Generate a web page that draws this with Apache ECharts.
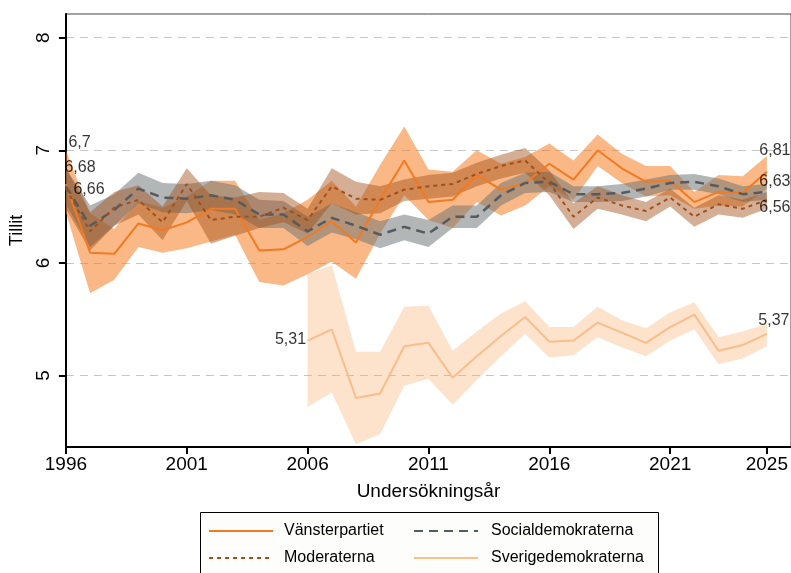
<!DOCTYPE html>
<html>
<head>
<meta charset="utf-8">
<title>Tillit</title>
<script src="https://cdn.jsdelivr.net/npm/echarts@6/dist/echarts.min.js"></script>
<style>
  html, body { margin: 0; padding: 0; background: #fff; }
  #chart { width: 791px; height: 573px; }
</style>
</head>
<body>
<div id="chart"></div>
<script>
  var years = [1996, 1997, 1998, 1999, 2000, 2001, 2002, 2003, 2004, 2005,
    2006, 2007, 2008, 2009, 2010, 2011, 2012, 2013, 2014, 2015,
    2016, 2017, 2018, 2019, 2020, 2021, 2022, 2023, 2024, 2025];

  var vanster = [6.70, 6.09, 6.08, 6.35, 6.29, 6.36, 6.48, 6.48, 6.11, 6.12,
    6.23, 6.37, 6.18, 6.56, 6.91, 6.54, 6.56, 6.78, 6.65, 6.71,
    6.88, 6.74, 7.00, 6.84, 6.72, 6.73, 6.54, 6.63, 6.62, 6.81];
  var vansterLo = [6.45, 5.73, 5.85, 6.14, 6.09, 6.13, 6.19, 6.25, 5.83, 5.80,
    5.90, 6.01, 5.86, 6.26, 6.60, 6.38, 6.31, 6.54, 6.42, 6.51,
    6.68, 6.56, 6.86, 6.71, 6.59, 6.60, 6.48, 6.51, 6.50, 6.66];
  var vansterHi = [7.00, 6.44, 6.30, 6.55, 6.49, 6.59, 6.73, 6.73, 6.38, 6.44,
    6.56, 6.73, 6.50, 6.87, 7.21, 6.83, 6.81, 7.00, 6.88, 6.94,
    7.06, 6.91, 7.14, 6.97, 6.86, 6.86, 6.63, 6.78, 6.77, 6.95];

  var socdem = [6.68, 6.33, 6.47, 6.66, 6.58, 6.57, 6.60, 6.56, 6.43, 6.43,
    6.28, 6.40, 6.33, 6.25, 6.32, 6.26, 6.41, 6.41, 6.60, 6.71,
    6.72, 6.61, 6.61, 6.62, 6.66, 6.71, 6.72, 6.68, 6.61, 6.63];
  var socdemLo = [6.52, 6.14, 6.33, 6.53, 6.45, 6.44, 6.47, 6.43, 6.31, 6.31,
    6.15, 6.27, 6.21, 6.13, 6.20, 6.14, 6.31, 6.31, 6.51, 6.62,
    6.63, 6.54, 6.54, 6.55, 6.59, 6.65, 6.65, 6.61, 6.54, 6.56];
  var socdemHi = [6.84, 6.51, 6.61, 6.80, 6.71, 6.70, 6.73, 6.69, 6.56, 6.55,
    6.41, 6.53, 6.45, 6.37, 6.43, 6.38, 6.51, 6.51, 6.71, 6.80,
    6.81, 6.68, 6.68, 6.70, 6.74, 6.78, 6.79, 6.75, 6.68, 6.70];

  var moderat = [6.66, 6.28, 6.49, 6.56, 6.36, 6.70, 6.38, 6.41, 6.41, 6.49,
    6.38, 6.68, 6.57, 6.56, 6.65, 6.68, 6.70, 6.79, 6.86, 6.91,
    6.71, 6.41, 6.58, 6.51, 6.46, 6.58, 6.41, 6.52, 6.48, 6.56];
  var moderatLo = [6.48, 6.11, 6.33, 6.43, 6.20, 6.55, 6.17, 6.24, 6.31, 6.36,
    6.26, 6.53, 6.43, 6.44, 6.55, 6.57, 6.59, 6.68, 6.75, 6.80,
    6.60, 6.30, 6.48, 6.43, 6.37, 6.50, 6.32, 6.43, 6.40, 6.48];
  var moderatHi = [6.84, 6.45, 6.63, 6.69, 6.50, 6.84, 6.60, 6.58, 6.63, 6.62,
    6.48, 6.84, 6.72, 6.68, 6.74, 6.78, 6.80, 6.89, 6.96, 7.02,
    6.82, 6.53, 6.68, 6.60, 6.54, 6.66, 6.49, 6.60, 6.56, 6.63];

  var sverige = [null, null, null, null, null, null, null, null, null, null,
    5.31, 5.41, 4.80, 4.84, 5.26, 5.29, 4.98, 5.17, 5.35, 5.52,
    5.30, 5.31, 5.47, 5.38, 5.29, 5.43, 5.54, 5.22, 5.27, 5.37];
  var sverigeLo = [null, null, null, null, null, null, null, null, null, null,
    4.72, 4.85, 4.39, 4.48, 4.91, 4.97, 4.74, 4.96, 5.17, 5.37,
    5.16, 5.18, 5.34, 5.25, 5.17, 5.31, 5.41, 5.10, 5.15, 5.26];
  var sverigeHi = [null, null, null, null, null, null, null, null, null, null,
    5.90, 5.98, 5.21, 5.21, 5.61, 5.62, 5.22, 5.39, 5.55, 5.66,
    5.43, 5.43, 5.61, 5.49, 5.42, 5.56, 5.65, 5.34, 5.39, 5.46];

  var xTicks = [1996, 2001, 2006, 2011, 2016, 2021, 2025];
  var yTicks = [5, 6, 7, 8];

  var font = '"Liberation Sans", Arial, sans-serif';
  var chart = echarts.init(document.getElementById('chart'));

  // ett konfidensband som en polygon (övre kant fram, nedre kant tillbaka)
  function band(name, lo, hi, color) {
    var rows = [];
    years.forEach(function (y, i) {
      if (lo[i] != null) rows.push([y, lo[i], hi[i]]);
    });
    return {
      name: name + ' KI',
      type: 'custom',
      silent: true,
      clip: true,
      z: 1,
      encode: { x: 0, y: [1, 2] },
      data: rows,
      renderItem: function (params, api) {
        if (params.dataIndex !== 0) return null;
        var upper = [], lower = [];
        rows.forEach(function (r) {
          upper.push(api.coord([r[0], r[2]]));
          lower.unshift(api.coord([r[0], r[1]]));
        });
        return { type: 'polygon', shape: { points: upper.concat(lower) }, style: { fill: color } };
      }
    };
  }

  function line(name, values, color, width, dash) {
    return {
      name: name,
      type: 'line',
      z: 3,
      symbol: 'none',
      silent: true,
      lineStyle: { color: color, width: width, type: dash },
      itemStyle: { color: color },
      data: years.map(function (y, i) { return [y, values[i]]; })
    };
  }

  function tal(v) { return String(v).replace('.', ','); }

  // etiketter vid första och sista året
  var endLabels = [
    { s: vanster, i: 0, pos: [3, -41], align: 'left' },
    { s: socdem, i: 0, pos: [-1, -18], align: 'left' },
    { s: moderat, i: 0, pos: [8, 2], align: 'left' },
    { s: vanster, i: 29, pos: [-7, -21], align: 'left' },
    { s: socdem, i: 29, pos: [-7, -10], align: 'left' },
    { s: moderat, i: 29, pos: [-7, 8], align: 'left' },
    { s: sverige, i: 10, pos: [-1, 0], align: 'right' },
    { s: sverige, i: 29, pos: [-8, -13], align: 'left' }
  ];

  var legendBase = {
    orient: 'vertical', top: 523, padding: 0,
    itemWidth: 64, itemHeight: 18, itemGap: 11,
    selectedMode: false,
    itemStyle: { opacity: 0 }
  };

  chart.setOption({
    backgroundColor: '#fff',
    animation: false,
    grid: {
      left: 65, right: 0, top: 14, bottom: 126,
      show: true, borderColor: '#444', borderWidth: 1
    },
    xAxis: {
      type: 'value',
      min: 1996, max: 2026,
      name: 'Undersökningsår',
      nameLocation: 'middle',
      nameGap: 35,
      nameTextStyle: { fontSize: 19, color: '#000', fontFamily: font },
      axisLine: { lineStyle: { color: '#000', width: 2 } },
      axisTick: { length: 7, lineStyle: { color: '#000', width: 2 }, customValues: xTicks },
      axisLabel: {
        fontSize: 19, color: '#000', fontFamily: font, margin: 8,
        customValues: xTicks,
        formatter: function (v) { return String(v); }
      },
      splitLine: { show: false }
    },
    yAxis: {
      type: 'value',
      min: 4.365, max: 8.21,
      name: 'Tillit',
      nameLocation: 'middle',
      nameGap: 36,
      nameRotate: 90,
      nameTextStyle: { fontSize: 18, color: '#000', fontFamily: font },
      axisLine: { show: true, lineStyle: { color: '#000', width: 2 } },
      axisTick: { show: true, length: 7, lineStyle: { color: '#000', width: 2 }, customValues: yTicks },
      axisLabel: {
        fontSize: 19, color: '#000', fontFamily: font, rotate: 90, margin: 13,
        customValues: yTicks
      },
      splitLine: { show: true, lineStyle: { color: '#c6c6c6', width: 1, type: [8, 6] } }
    },
    legend: [
      Object.assign({}, legendBase, {
        data: ['Vänsterpartiet', 'Moderaterna'],
        left: 208,
        textStyle: { fontSize: 16, color: '#000', fontFamily: font, padding: [0, 0, 0, 6] }
      }),
      Object.assign({}, legendBase, {
        data: ['Socialdemokraterna', 'Sverigedemokraterna'],
        left: 413,
        textStyle: { fontSize: 16, color: '#000', fontFamily: font, padding: [0, 0, 0, 8] }
      })
    ],
    graphic: [{
      type: 'rect', left: 200, top: 512, z: -1,
      shape: { width: 458, height: 80 },
      style: { fill: '#fdfdfb', stroke: '#000', lineWidth: 1 }
    }],
    series: [
      band('Vänsterpartiet', vansterLo, vansterHi, 'rgba(244,125,35,0.55)'),
      band('Socialdemokraterna', socdemLo, socdemHi, 'rgba(110,115,115,0.52)'),
      band('Moderaterna', moderatLo, moderatHi, 'rgba(160,78,22,0.45)'),
      band('Sverigedemokraterna', sverigeLo, sverigeHi, 'rgba(248,166,96,0.32)'),
      line('Vänsterpartiet', vanster, '#f27a22', 2, 'solid'),
      line('Socialdemokraterna', socdem, '#555b5f', 2.5, [9, 6]),
      line('Moderaterna', moderat, '#a0501c', 2, [4, 4]),
      line('Sverigedemokraterna', sverige, '#f8be8c', 2, 'solid'),
      {
        name: 'etiketter',
        type: 'scatter',
        z: 5,
        silent: true,
        symbolSize: 1,
        itemStyle: { color: 'rgba(0,0,0,0)' },
        data: endLabels.map(function (l) {
          return {
            value: [years[l.i], l.s[l.i]],
            label: {
              show: true,
              position: l.pos,
              align: l.align,
              verticalAlign: 'middle',
              fontSize: 16,
              color: '#000',
              fontFamily: font,
              formatter: function (p) { return tal(p.value[1]); }
            }
          };
        })
      }
    ]
  });
</script>
</body>
</html>
